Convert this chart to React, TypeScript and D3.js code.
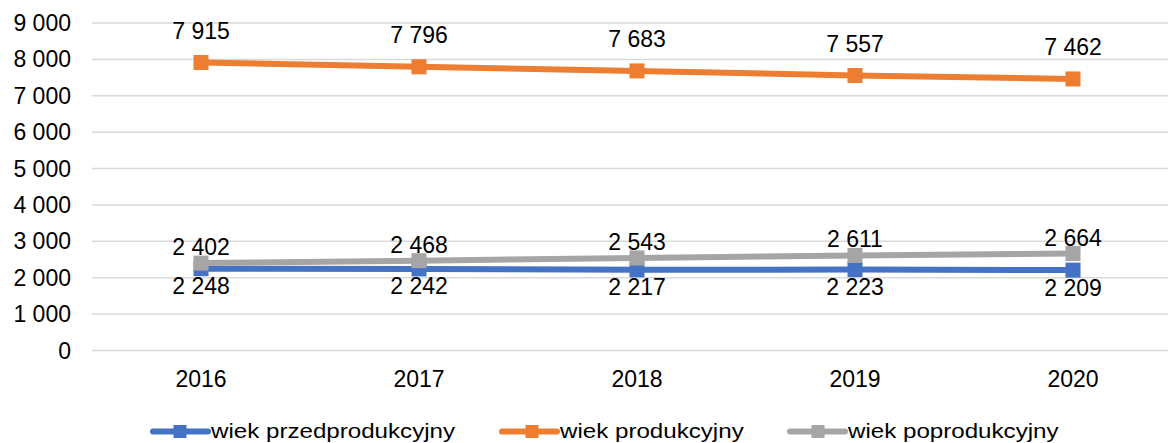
import React from "react";
import * as d3 from "d3";

const years = ["2016", "2017", "2018", "2019", "2020"];
const przed = [2248, 2242, 2217, 2223, 2209];
const prod = [7915, 7796, 7683, 7557, 7462];
const popro = [2402, 2468, 2543, 2611, 2664];
const yTicks = [0, 1000, 2000, 3000, 4000, 5000, 6000, 7000, 8000, 9000];

const seriesNames = ["wiek przedprodukcyjny", "wiek produkcyjny", "wiek poprodukcyjny"];
const seriesColors = ["#4472C4", "#ED7D31", "#A5A5A5"];

const W = 1168;
const H = 443;
const FONT = "'Liberation Sans', Arial, sans-serif";

const fmt = (v: number) => {
  const s = String(Math.round(v));
  return s.replace(/\B(?=(\d{3})+(?!\d))/g, " ");
};

export default function App() {
  const x = d3.scaleBand<string>().domain(years).range([92, 1182]).padding(0);
  const cx = (d: string) => (x(d) as number) + x.bandwidth() / 2;
  const y = d3.scaleLinear().domain([0, 9000]).range([350.5, 23]);

  const series = [
    { name: seriesNames[0], color: seriesColors[0], values: przed, labelDy: 25.5 },
    { name: seriesNames[1], color: seriesColors[1], values: prod, labelDy: -23.5 },
    { name: seriesNames[2], color: seriesColors[2], values: popro, labelDy: -8 },
  ];

  const line = d3
    .line<number>()
    .x((_, i) => cx(years[i]))
    .y((v) => y(v));

  const legendItems = [
    { lx: 153, mx: 180, tx: 211 },
    { lx: 502, mx: 532, tx: 560 },
    { lx: 790, mx: 818, tx: 848 },
  ];

  return (
    <svg
      width={W}
      height={H}
      style={{ position: "absolute", left: 0, top: 0, background: "#fff" }}
      fontFamily={FONT}
    >
      <rect x={0} y={0} width={W} height={H} fill="#fff" />
      {yTicks.map((t) => (
        <g key={t}>
          <line x1={92} x2={W} y1={y(t)} y2={y(t)} stroke="#d9d9d9" strokeWidth={1.5} />
          <text
            x={71}
            y={y(t)}
            textAnchor="end"
            dominantBaseline="central"
            fontSize={23}
            fill="#000"
          >
            {fmt(t)}
          </text>
        </g>
      ))}
      {years.map((yr) => (
        <text key={yr} x={cx(yr)} y={387} textAnchor="middle" fontSize={23} fill="#000">
          {yr}
        </text>
      ))}
      {series.map((s) => (
        <g key={s.name}>
          <path d={line(s.values) || ""} fill="none" stroke={s.color} strokeWidth={6} />
          {s.values.map((v, i) => (
            <rect
              key={i}
              x={cx(years[i]) - 7.5}
              y={y(v) - 7.5}
              width={15}
              height={15}
              fill={s.color}
            />
          ))}
        </g>
      ))}
      {series.map((s) => (
        <g key={s.name + "-labels"}>
          {s.values.map((v, i) => (
            <text
              key={i}
              x={cx(years[i])}
              y={y(v) + s.labelDy}
              textAnchor="middle"
              fontSize={23}
              fill="#000"
            >
              {fmt(v)}
            </text>
          ))}
        </g>
      ))}
      {series.map((s, i) => {
        const L = legendItems[i];
        const ly = 431.5;
        return (
          <g key={s.name + "-legend"}>
            <line
              x1={L.lx}
              x2={L.lx + 55}
              y1={ly}
              y2={ly}
              stroke={s.color}
              strokeWidth={6}
              strokeLinecap="round"
            />
            <rect x={L.mx - 6.5} y={ly - 6.5} width={13} height={13} fill={s.color} />
            <text
              transform={`translate(${L.tx},438) scale(1.15,1)`}
              fontSize={21}
              fill="#000"
            >
              {s.name}
            </text>
          </g>
        );
      })}
    </svg>
  );
}
